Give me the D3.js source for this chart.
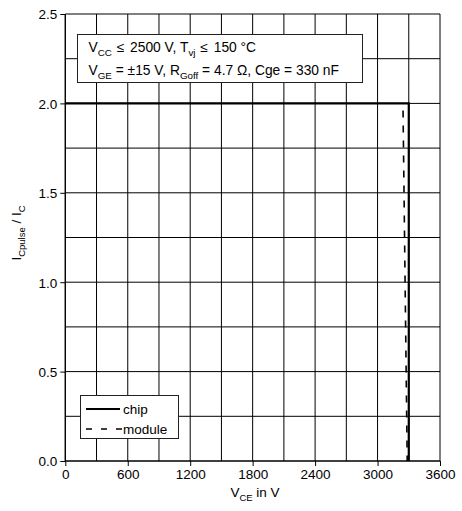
<!DOCTYPE html>
<html>
<head>
<meta charset="utf-8">
<script src="https://cdn.jsdelivr.net/npm/d3@7"></script>
<style>
  html, body { margin: 0; padding: 0; background: #fff; }
  svg { display: block; font-family: "Liberation Sans", Arial, sans-serif; }
</style>
</head>
<body>
<svg id="chart" width="462" height="511"></svg>
<script>
// Pulsed collector current vs. collector-emitter voltage (RBSOA)
const xTicks = [0, 600, 1200, 1800, 2400, 3000, 3600];
const xGrid = [0, 300, 600, 900, 1200, 1500, 1800, 2100, 2400, 2700, 3000, 3300, 3600];
const yTicks = [0.0, 0.5, 1.0, 1.5, 2.0, 2.5];
const yGrid = [0, 0.25, 0.5, 0.75, 1.0, 1.25, 1.5, 1.75, 2.0, 2.25, 2.5];

// chip limit
const chipV = [0, 3300, 3300];
const chipI = [2.0, 2.0, 0.0];
// module limit
const moduleV = [3245, 3285];
const moduleI = [1.96, 0.0];

const seriesNames = ["chip", "module"];

const svg = d3.select("#chart");
const plotL = 65.3, plotR = 440, plotT = 14, plotB = 461;

const x = d3.scaleLinear().domain([0, 3600]).range([plotL, plotR]);
const y = d3.scaleLinear().domain([0, 2.5]).range([plotB, plotT]);

// grid
const grid = svg.append("g").attr("stroke", "#000").attr("stroke-width", 1);
grid.selectAll("line.v").data(xGrid).join("line")
  .attr("class", "v")
  .attr("x1", d => x(d)).attr("x2", d => x(d))
  .attr("y1", plotT).attr("y2", plotB);
grid.selectAll("line.h").data(yGrid).join("line")
  .attr("class", "h")
  .attr("x1", plotL).attr("x2", plotR)
  .attr("y1", d => y(d)).attr("y2", d => y(d));

// axes
const fmtY = d3.format(".1f");
const yAxis = d3.axisLeft(y).tickValues(yTicks).tickFormat(fmtY).tickSize(5).tickPadding(3);
const xAxis = d3.axisBottom(x).tickValues(xTicks).tickFormat(d3.format("d")).tickSize(5).tickPadding(3);

const gy = svg.append("g").attr("transform", `translate(${plotL},0)`).call(yAxis);
const gx = svg.append("g").attr("transform", `translate(0,${plotB})`).call(xAxis);
[gy, gx].forEach(g => {
  g.select(".domain").remove();
  g.selectAll("text").attr("font-size", 13.5).attr("fill", "#000")
    .attr("font-family", "Liberation Sans, Arial, sans-serif");
  g.selectAll("line").attr("stroke", "#000");
});
gy.selectAll("text").attr("dy", "0.36em");
gx.selectAll("text").attr("dy", "0.75em");

// axis lines
svg.append("line").attr("x1", plotL).attr("x2", plotL).attr("y1", plotT).attr("y2", plotB)
  .attr("stroke", "#000").attr("stroke-width", 1.2);
svg.append("line").attr("x1", plotL).attr("x2", plotR).attr("y1", plotB).attr("y2", plotB)
  .attr("stroke", "#000").attr("stroke-width", 1.2);

// curves
const line = d3.line().x(d => x(d[0])).y(d => y(d[1]));
svg.append("path")
  .datum(chipV.map((v, i) => [v, chipI[i]]))
  .attr("d", line).attr("fill", "none").attr("stroke", "#000").attr("stroke-width", 2.2);
svg.append("path")
  .datum(moduleV.map((v, i) => [v, moduleI[i]]))
  .attr("d", line).attr("fill", "none").attr("stroke", "#000").attr("stroke-width", 1.6)
  .attr("stroke-dasharray", "7,8");

// helper for text with subscripts
function richText(parent, parts, attrs, subSize) {
  const t = parent.append("text");
  Object.entries(attrs).forEach(([k, v]) => t.attr(k, v));
  let shifted = false;
  parts.forEach(p => {
    const sub = p.sub === true;
    const ts = t.append("tspan").text(p.t);
    if (p.dx) ts.attr("dx", p.dx);
    if (sub && !shifted) { ts.attr("dy", 3.5).attr("font-size", subSize); shifted = true; }
    else if (sub) { ts.attr("font-size", subSize); }
    else if (!sub && shifted) { ts.attr("dy", -3.5); shifted = false; }
  });
  return t;
}

// condition box
svg.append("rect").attr("x", 77.5).attr("y", 34.5).attr("width", 285).attr("height", 48)
  .attr("fill", "#fff").attr("stroke", "#222").attr("stroke-width", 1);
richText(svg, [
  {t: "V"}, {t: "CC", sub: true}, {t: " ≤", dx: 1}, {t: " 2500 V, T", dx: 2},
  {t: "vj", sub: true}, {t: " ≤", dx: 1}, {t: " 150 °C", dx: 2}
], {x: 88.5, y: 52, "font-size": 13.8, fill: "#000"}, 9.8);
richText(svg, [
  {t: "V"}, {t: "GE", sub: true}, {t: " = ±15 V, R"}, {t: "Goff", sub: true},
  {t: " = 4.7 Ω, Cge = 330 nF"}
], {x: 88.5, y: 75, "font-size": 13.8, fill: "#000"}, 9.8);

// legend
svg.append("rect").attr("x", 80.5).attr("y", 395.5).attr("width", 98).attr("height", 43)
  .attr("fill", "#fff").attr("stroke", "#222").attr("stroke-width", 1);
const lg = svg.append("g");
lg.append("line").attr("x1", 86).attr("x2", 120).attr("y1", 409).attr("y2", 409)
  .attr("stroke", "#000").attr("stroke-width", 2.2);
lg.append("line").attr("x1", 86).attr("x2", 122).attr("y1", 429).attr("y2", 429)
  .attr("stroke", "#000").attr("stroke-width", 1.6).attr("stroke-dasharray", "6,9");
lg.selectAll("text").data(seriesNames).join("text")
  .attr("x", 123).attr("y", (d, i) => 413.5 + i * 20)
  .attr("font-size", 13.5).attr("fill", "#000").text(d => d);

// axis titles
richText(svg, [{t: "V"}, {t: "CE", sub: true}, {t: " in V"}],
  {x: 255, y: 497, "font-size": 13.5, fill: "#000", "text-anchor": "middle"}, 9.5);
richText(svg, [{t: "I"}, {t: "Cpulse", sub: true}, {t: " / I"}, {t: "C", sub: true}],
  {x: 0, y: 0, "font-size": 13.5, fill: "#000", "text-anchor": "middle",
   transform: `translate(21,233) rotate(-90)`}, 9.5);
</script>
</body>
</html>
